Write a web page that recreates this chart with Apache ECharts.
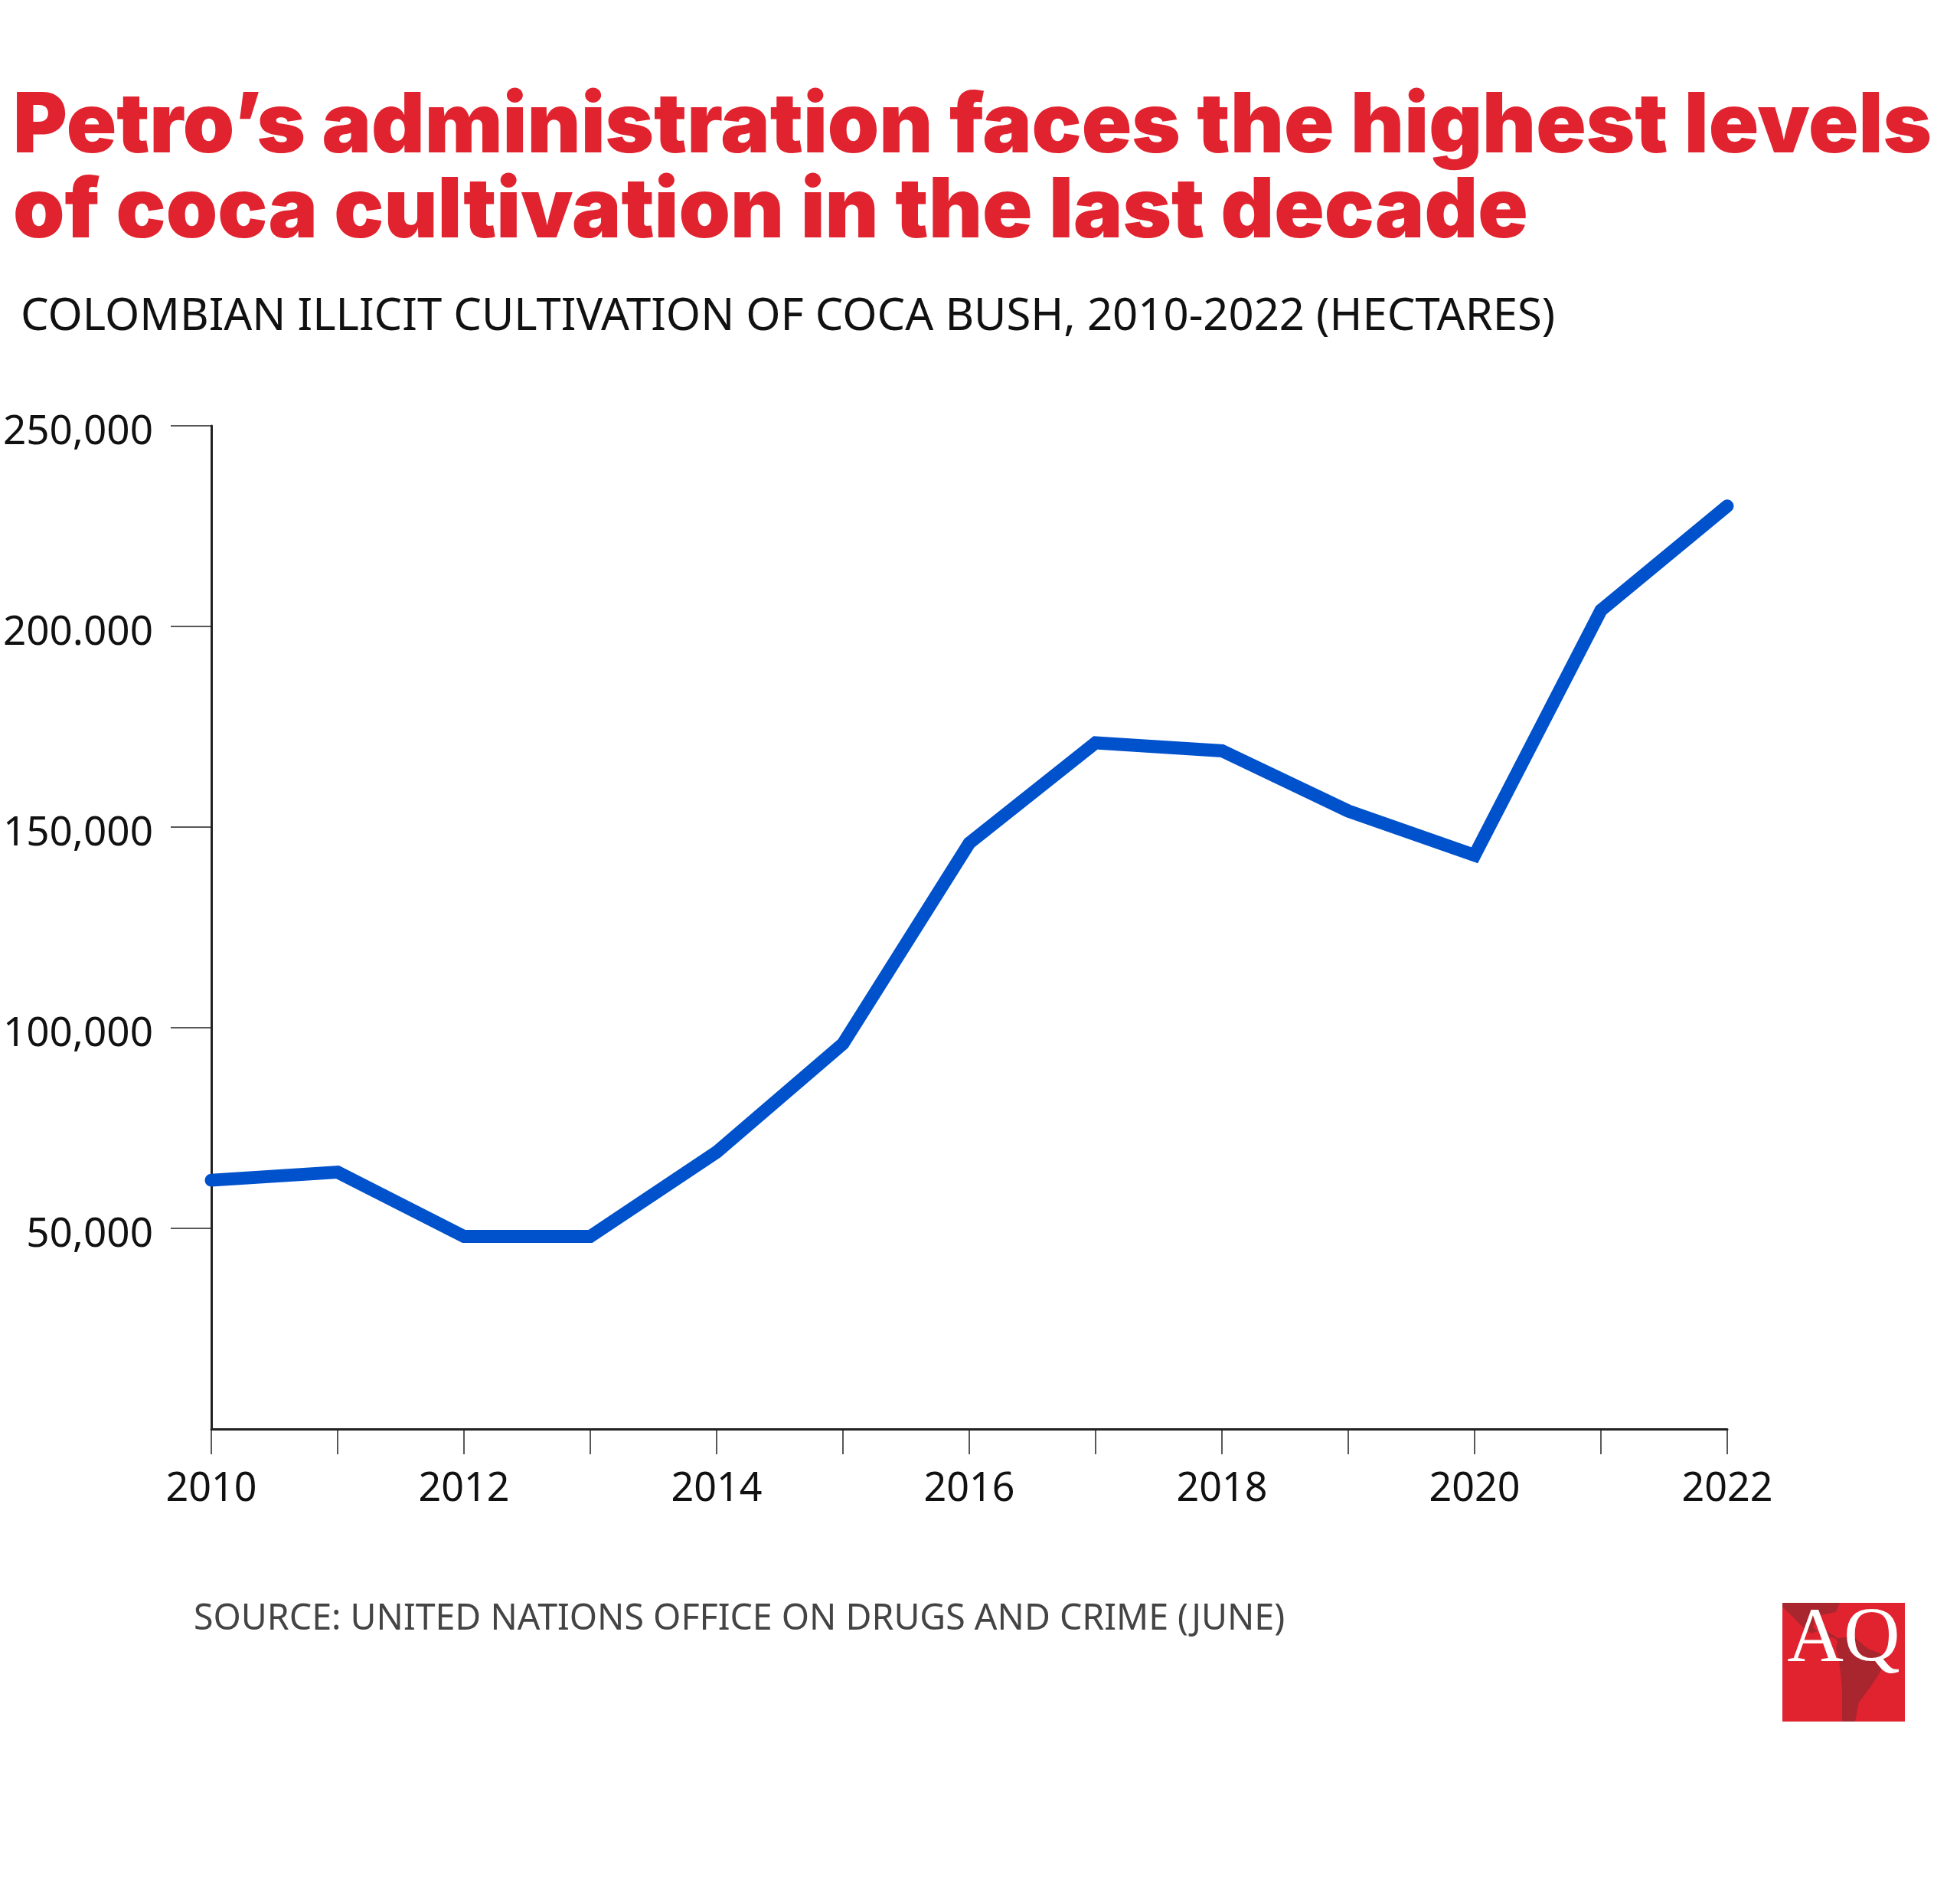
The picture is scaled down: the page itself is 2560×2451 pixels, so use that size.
<!DOCTYPE html>
<html>
<head>
<meta charset="utf-8">
<script src="https://cdn.jsdelivr.net/npm/echarts@6/dist/echarts.min.js"></script>
<style>
html,body{margin:0;padding:0;background:#fff;}
#chart{width:2560px;height:2451px;}
</style>
</head>
<body>
<div id="chart"></div>
<script>
const years = ['2010','2011','2012','2013','2014','2015','2016','2017','2018','2019','2020','2021','2022'];
const hectares = [62000, 64000, 48000, 48000, 69000, 96000, 146000, 171000, 169000, 154000, 143000, 204000, 230000];
const yTickValues = [50000, 100000, 150000, 200000, 250000];
const yTickLabels = ['50,000', '100,000', '150,000', '200.000', '250,000'];

const titleText = 'Petro\u2019s administration faces the highest levels\nof coca cultivation in the last decade';
const subtitleText = 'COLOMBIAN ILLICIT CULTIVATION OF COCA BUSH, 2010-2022 (HECTARES)';
const sourceText = 'SOURCE: UNITED NATIONS OFFICE ON DRUGS AND CRIME (JUNE)';

const RED = '#E1232F';
const chart = echarts.init(document.getElementById('chart'), null, {renderer: 'canvas'});

const option = {
  backgroundColor: '#ffffff',
  animation: false,
  title: [
    {
      text: titleText, left: 12, top: 106,
      textStyle: {fontFamily: 'Inter', fontWeight: 900, fontSize: 108, lineHeight: 111, color: RED}
    },
    {
      text: subtitleText, left: 22, top: 380,
      textStyle: {fontFamily: 'Noto Sans', fontWeight: 400, fontSize: 58, color: '#111'}
    },
    {
      text: sourceText, left: 248, top: 2086,
      textStyle: {fontFamily: 'Noto Sans', fontWeight: 400, fontSize: 46.5, color: '#444'}
    }
  ],
  grid: {left: 276, right: 304, top: 556, bottom: 585, containLabel: false},
  xAxis: {
    type: 'category',
    data: years,
    boundaryGap: false,
    axisLine: {show: true, lineStyle: {color: '#222', width: 3}},
    axisTick: {show: true, interval: 0, length: 33, lineStyle: {color: '#222', width: 1.5}},
    axisLabel: {interval: 1, margin: 53, fontFamily: 'Noto Sans', fontSize: 52, color: '#111'},
    splitLine: {show: false}
  },
  yAxis: {
    type: 'value',
    min: 0, max: 250000, interval: 50000,
    axisLine: {show: true, lineStyle: {color: '#222', width: 3}},
    axisTick: {show: true, length: 53, customValues: yTickValues, lineStyle: {color: '#222', width: 1.5}},
    axisLabel: {
      customValues: yTickValues,
      margin: 76, fontFamily: 'Noto Sans', fontSize: 53, color: '#111',
      rich: {v: {fontFamily: 'Noto Sans', fontSize: 53, color: '#111', padding: [18, 0, 0, 0]}},
      formatter: function (v) { const i = yTickValues.indexOf(v); return i >= 0 ? '{v|' + yTickLabels[i] + '}' : ''; }
    },
    splitLine: {show: false}
  },
  series: [{
    type: 'line',
    data: hectares,
    symbol: 'none',
    lineStyle: {color: '#0052CC', width: 17, cap: 'round', join: 'miter'},
    z: 3
  }],
  graphic: [
    {
      type: 'group', left: 2328, top: 2091,
      children: [
        {type: 'rect', shape: {x: 0, y: 0, width: 160, height: 155}, style: {fill: RED}},
        {type: 'polygon', shape: {points: [[0,0],[75,0],[70,12],[50,16],[42,22],[40,32],[52,42],[68,46],[72,50],[70,60],[74,75],[78,110],[78,155],[95,155],[100,130],[115,110],[125,95],[135,75],[128,66],[112,60],[95,46],[80,45],[72,46],[60,38],[48,36],[38,40],[30,35],[0,5]]}, style: {fill: '#A9262E'}},
        {type: 'text', style: {text: 'AQ', x: 80, y: 100, fill: '#fff', font: '102px "Liberation Serif"', textAlign: 'center', textVerticalAlign: 'bottom'}}
      ]
    }
  ]
};
chart.setOption(option);
</script>
</body>
</html>
